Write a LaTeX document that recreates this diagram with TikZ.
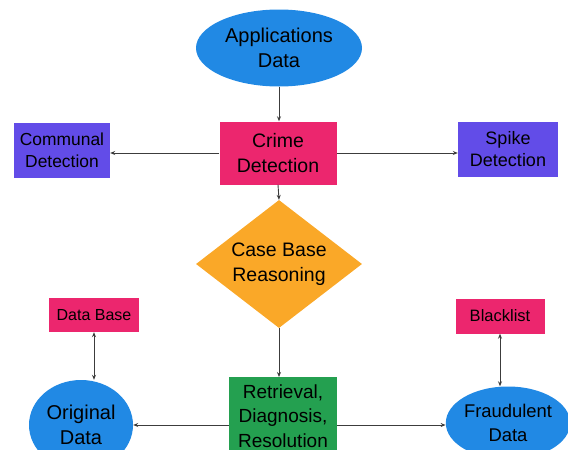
\documentclass[tikz,border=0pt]{standalone}
\usepackage{fontspec}
\setmainfont{Liberation Sans}
\usetikzlibrary{shapes.geometric,arrows.meta}
\definecolor{cblue}{RGB}{33,137,228}
\definecolor{cpink}{RGB}{236,38,110}
\definecolor{cpurple}{RGB}{98,76,232}
\definecolor{corange}{RGB}{250,168,40}
\definecolor{cgreen}{RGB}{36,160,80}
\definecolor{cline}{RGB}{60,60,60}
\tikzset{
  box/.style={draw=none, inner sep=0pt, align=center, text=black},
  oval/.style={ellipse, fill=cblue, box},
  arr/.style={draw=cline, line width=0.9pt, -{Stealth[length=5pt,width=4pt]}},
  darr/.style={draw=cline, line width=0.9pt, {Stealth[length=5pt,width=4pt]}-{Stealth[length=5pt,width=4pt]}},
}
\begin{document}
\begin{tikzpicture}[x=1pt,y=-1pt]
\useasboundingbox (0,0) rectangle (568,450);
\clip (0,0) rectangle (568,450);
\node[oval, minimum width=166pt, minimum height=77pt, font=\fontsize{20}{25}\selectfont] (app) at (279,48) {Applications\\Data};
\node[box, fill=cpink, minimum width=117pt, minimum height=63pt, font=\fontsize{19.5}{25}\selectfont] (crime) at (278,153) {Crime\\Detection};
\node[box, fill=cpurple, minimum width=96pt, minimum height=55pt, font=\fontsize{17.4}{22}\selectfont] (comm) at (62,150) {Communal\\Detection};
\node[box, fill=cpurple, minimum width=100pt, minimum height=55pt, font=\fontsize{18}{22}\selectfont] (spike) at (508,149) {Spike\\Detection};
\node[diamond, fill=corange, inner sep=0pt, minimum width=166pt, minimum height=128pt,
  label={[align=center, font=\fontsize{19.5}{25}\selectfont]center:Case Base\\Reasoning}] (cbr) at (279,264) {};
\node[box, fill=cpink, minimum width=90pt, minimum height=34pt, font=\fontsize{16}{19}\selectfont] (db) at (94,315) {Data Base};
\node[box, fill=cpink, minimum width=89pt, minimum height=35pt, font=\fontsize{16.5}{19}\selectfont] (bl) at (500,316) {Blacklist};
\node[oval, minimum width=104pt, minimum height=90pt, font=\fontsize{20}{25}\selectfont] (orig) at (81,425) {Original\\Data};
\node[box, fill=cgreen, minimum width=108pt, minimum height=82pt, anchor=north] (ret) at (283,377) {};
\node[box, font=\fontsize{19}{24.5}\selectfont] (rettext) at (283,416) {Retrieval,\\Diagnosis,\\Resolution};
\node[oval, minimum width=118pt, minimum height=73pt, font=\fontsize{18.4}{24}\selectfont] (fraud) at (508,423) {Fraudulent\\Data};
\draw[arr] (app.south) -- (crime.north -| app.south);
\draw[arr] (crime.west) -- (comm.east |- crime.west);
\draw[arr] (crime.east) -- (spike.west |- crime.east);
\draw[arr] (crime.south) -- (cbr.north);
\draw[arr] (cbr.south) -- (cbr.south |- ret.north);
\draw[arr] (ret.west |- 0,425) -- (orig.east |- 0,425);
\draw[arr] (ret.east |- 0,425) -- (fraud.west |- 0,425);
\draw[darr] (db.south) -- (orig.north -| db.south);
\draw[darr] (bl.south) -- (fraud.north -| bl.south);
\end{tikzpicture}
\end{document}
